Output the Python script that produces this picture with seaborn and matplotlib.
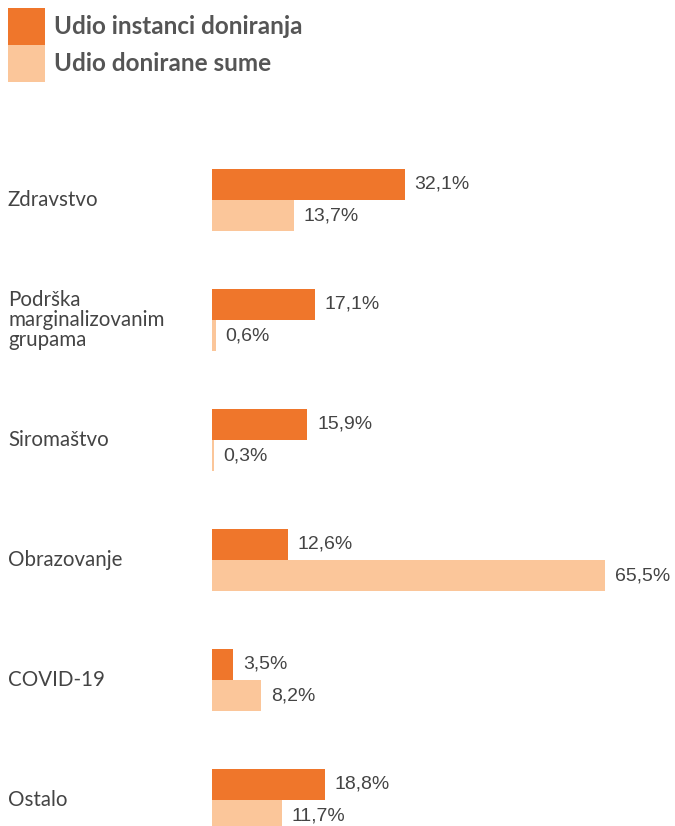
import numpy as np
import pandas as pd
import seaborn as sns
import matplotlib.pyplot as plt
from matplotlib.patches import Rectangle
from matplotlib.transforms import blended_transform_factory

categories = ['Zdravstvo', 'Podrška\nmarginalizovanim\ngrupama', 'Siromaštvo',
              'Obrazovanje', 'COVID-19', 'Ostalo']
instance_share = [32.1, 17.1, 15.9, 12.6, 3.5, 18.8]
sum_share = [13.7, 0.6, 0.3, 65.5, 8.2, 11.7]
series_names = ['Udio instanci doniranja', 'Udio donirane sume']
colors = ['#EF762B', '#FBC69A']

df = pd.DataFrame({
    'category': categories * 2,
    'value': instance_share + sum_share,
    'series': [series_names[0]] * len(categories) + [series_names[1]] * len(categories),
})

sns.set_theme(style='white')
plt.rcParams['font.family'] = ['Lato', 'DejaVu Sans']

W, H = 675, 826
fig = plt.figure(figsize=(W / 100, H / 100), dpi=100)
# axes: x from 212px to right edge, 6px per percent; categories 120px apart
ax = fig.add_axes([212 / W, 0, (W - 212) / W, 686 / H])

sns.barplot(data=df, x='value', y='category', hue='series', order=categories,
            hue_order=series_names, palette=colors, orient='h', width=0.517,
            saturation=1, legend=False, linewidth=0, ax=ax)

ax.set_xlim(0, (W - 212) / 6.0)
ax.set_ylim(5.2167, -0.5)
ax.set_axis_off()

for cont in ax.containers:
    vals = [b.get_width() for b in cont]
    ax.bar_label(cont, labels=[f'{v:.1f}%'.replace('.', ',') for v in vals],
                 padding=7, fontsize=14, color='#444444', family='Liberation Sans')

trans = blended_transform_factory(fig.transFigure, ax.transData)
for i, cat in enumerate(categories):
    ax.text(8 / W, i, cat, transform=trans, ha='left', va='center',
            fontsize=14.8, color='#444444', linespacing=1.0)

# legend
for k, (name, c) in enumerate(zip(series_names, colors)):
    y0 = 1 - (8 + 37 * (k + 1)) / H
    fig.patches.append(Rectangle((8 / W, y0), 37 / W, 37 / H, transform=fig.transFigure,
                                 facecolor=c, edgecolor='none'))
    fig.text(54 / W, y0 + 18.5 / H, name, ha='left', va='center', fontsize=17.5,
             fontweight='bold', color='#555555')

fig.savefig('out.png', dpi=100)
